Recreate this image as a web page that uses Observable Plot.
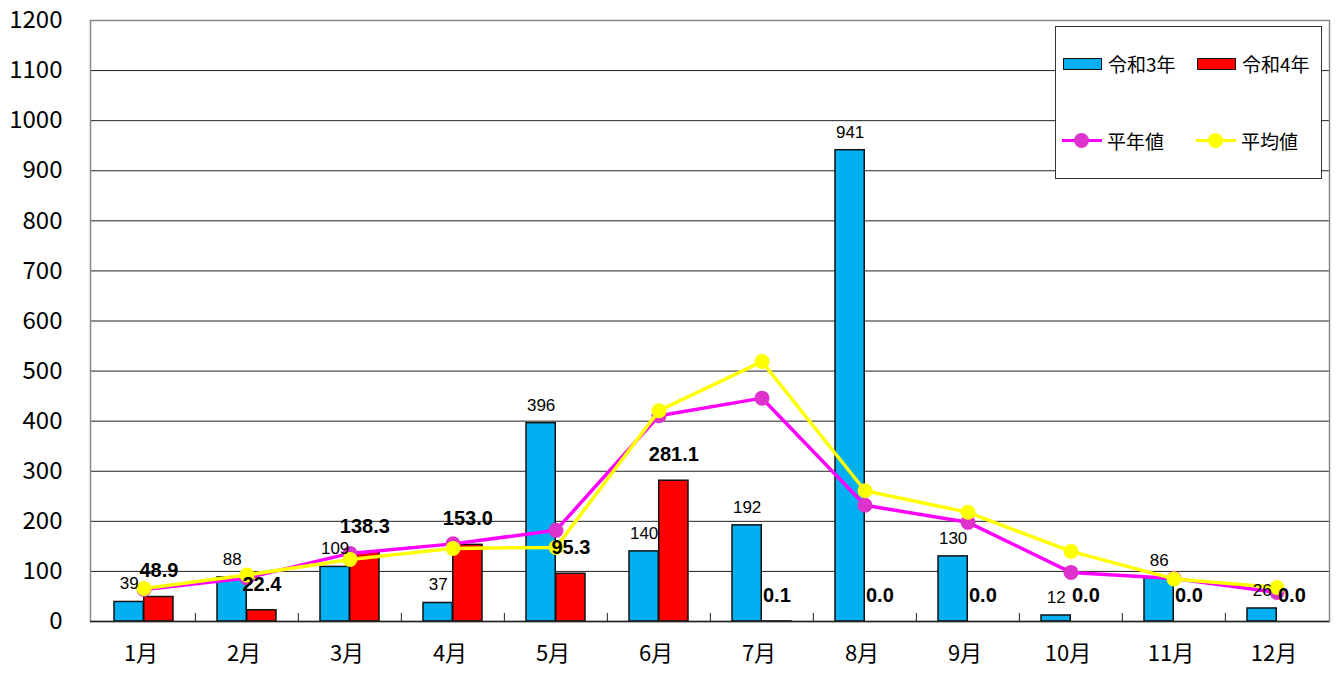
<!DOCTYPE html>
<html>
<head>
<meta charset="utf-8">
<script src="https://cdn.jsdelivr.net/npm/d3@7"></script>
<script src="https://cdn.jsdelivr.net/npm/@observablehq/plot@0.6"></script>
<style>
  body { margin: 0; background: #fff; }
  #wrap { position: relative; width: 1340px; height: 690px; font-family: "Noto Sans CJK JP", "Noto Sans", sans-serif; }
  #legend { position: absolute; left: 1055px; top: 26px; width: 267px; height: 153px; border: 1px solid #333; background: #fff; box-sizing: border-box; }
  .item { position: absolute; display: flex; align-items: center; font-size: 19px; color: #000; }
  .sw { width: 37px; height: 10px; border: 1.5px solid #111; margin-right: 6px; }
  .ln { position: relative; width: 40px; height: 3.5px; margin-right: 5px; }
  .ln span { position: absolute; left: 12px; top: -6px; width: 15px; height: 15px; border-radius: 50%; }
</style>
</head>
<body>
<div id="wrap">
  <div id="chart"></div>
  <div id="legend">
    <div class="item" style="left:7px;top:23px;"><div class="sw" style="background:#00B0F0"></div>令和3年</div>
    <div class="item" style="left:141px;top:23px;"><div class="sw" style="background:#FF0000"></div>令和4年</div>
    <div class="item" style="left:6px;top:100px;"><div class="ln" style="background:#FF00FF"><span style="background:#DD33CC"></span></div>平年値</div>
    <div class="item" style="left:140px;top:100px;"><div class="ln" style="background:#FFFF00"><span style="background:#FFFF00"></span></div>平均値</div>
  </div>
</div>
<script>
const months = ["1月","2月","3月","4月","5月","6月","7月","8月","9月","10月","11月","12月"];
const reiwa3 = [39, 88, 109, 37, 396, 140, 192, 941, 130, 12, 86, 26];
const reiwa4 = [48.9, 22.4, 138.3, 153.0, 95.3, 281.1, 0.1, 0.0, 0.0, 0.0, 0.0, 0.0];
const heinen = [64, 87, 136, 155, 182, 411, 446, 232, 198, 98, 86, 58];
const heikin = [66, 93, 124, 146, 148, 421, 519, 261, 218, 140, 85, 68];
const yTicks = d3.range(0, 1201, 100);

const rows = months.map((m, i) => ({m, r3: reiwa3[i], r4: reiwa4[i], heinen: heinen[i], heikin: heikin[i]}));

const W = 1340, H = 690, mL = 90, mR = 11, mT = 20, mB = 69;
const bw = (W - mL - mR) / months.length;
const gap = 22, barW = 29.5;
const dBlue = gap + barW / 2 - bw / 2;
const dRed = bw / 2 - gap - barW / 2;
const numFont = "'Liberation Sans', Arial, sans-serif";

const chart = Plot.plot({
  width: W, height: H,
  marginLeft: mL, marginRight: mR, marginTop: mT, marginBottom: mB,
  style: {fontFamily: "'Noto Sans CJK JP', 'Noto Sans', sans-serif", background: "white", color: "#000"},
  x: {type: "band", domain: months, padding: 0, label: null},
  y: {domain: [0, 1200], label: null},
  marks: [
    Plot.ruleY(yTicks.filter(d => d > 0 && d < 1200), {stroke: "#222", strokeWidth: 1}),
    Plot.frame({stroke: "#888", strokeWidth: 1.5}),
    Plot.barY(rows, {x: "m", y: "r3", fill: "#00B0F0", stroke: "#111", strokeWidth: 1.5, insetLeft: gap, insetRight: bw - gap - barW}),
    Plot.barY(rows, {x: "m", y: "r4", fill: "#FF0000", stroke: "#111", strokeWidth: 1.5, insetLeft: bw - gap - barW, insetRight: gap}),
    Plot.ruleY([0], {stroke: "#222", strokeWidth: 1.5}),
    Plot.ruleX(months.slice(1), {dx: -bw / 2, insetTop: H - mT - mB - 8, stroke: "#222"}),
    Plot.lineY(rows, {x: "m", y: "heinen", stroke: "#FF00FF", strokeWidth: 3.5}),
    Plot.dot(rows, {x: "m", y: "heinen", r: 7.5, fill: "#DD33CC"}),
    Plot.lineY(rows, {x: "m", y: "heikin", stroke: "#FFFF00", strokeWidth: 3.5}),
    Plot.dot(rows, {x: "m", y: "heikin", r: 7.5, fill: "#FFFF00"}),
    Plot.text(rows, {x: "m", y: "r3", text: d => String(d.r3), dx: dBlue, dy: -18, fontSize: 17, fontFamily: numFont, fill: "#000"}),
    Plot.text(rows, {x: "m", y: "r4", text: d => d.r4.toFixed(1), dx: dRed, dy: -26, fontSize: 20, fontWeight: "bold", fontFamily: numFont, fill: "#000"}),
    Plot.axisY({ticks: yTicks, tickFormat: d => String(d), tickSize: 0, tickPadding: 28, fontSize: 24, line: true, stroke: "#000"}),
    Plot.axisX({tickSize: 0, tickPadding: 24, fontSize: 22, dx: -3})
  ]
});
document.getElementById("chart").appendChild(chart);
</script>
</body>
</html>
